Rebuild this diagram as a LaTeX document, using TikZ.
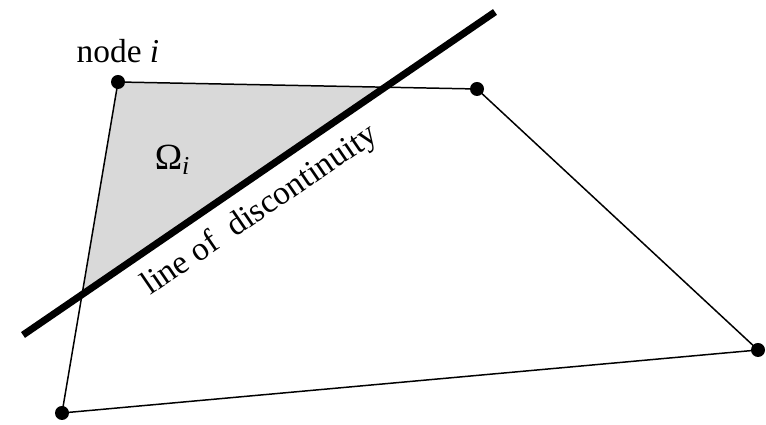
\documentclass[tikz,border=0pt]{standalone}
\usepackage{fontspec}
\setmainfont{Liberation Serif}
\usetikzlibrary{calc}
\tikzset{
  edge/.style={line width=0.85pt, black},
  crack/.style={line width=4pt, black},
  nodept/.style={circle, fill=black, inner sep=0pt, minimum size=0.28cm},
  txt/.style={font=\fontsize{19}{22}\selectfont}
}
\begin{document}
\begin{tikzpicture}
        \useasboundingbox (0,0) rectangle (15.32,8.5);
        % Nodos del elemento
        \coordinate (ni) at (2.36,6.86);
        \coordinate (nb) at (9.54,6.72);
        \coordinate (nc) at (15.16,1.50);
        \coordinate (nd) at (1.24,0.24);
        % Extremos de la discontinuidad
        \coordinate (ca) at (0.46,1.80);
        \coordinate (cb) at (9.90,8.26);
        % Zona sombreada
        \fill[black!15] (ni) -- (intersection of ni--nb and ca--cb)
              -- (intersection of ni--nd and ca--cb) -- cycle;
        % Contorno del elemento
        \draw[edge] (ni) -- (nb) -- (nc) -- (nd) -- cycle;
        % Linea de discontinuidad
        \draw[crack] (ca) -- (cb)
              node[txt, pos=0.465, sloped, below=0.14cm] {line of\ \ discontinuity};
        % Nodos
        \node[nodept] (pi) at (ni) {};
        \node[nodept] (pb) at (nb) {};
        \node[nodept] (pc) at (nc) {};
        \node[nodept] (pd) at (nd) {};
        \node[txt, above=0.12cm] (lab) at (pi.north) {node \textit{i}};
        \node[txt, font=\fontsize{21}{24}\selectfont] (om) at (3.45,5.3) {Ω\textsubscript{\textit{i}}};
    \end{tikzpicture}
\end{document}
